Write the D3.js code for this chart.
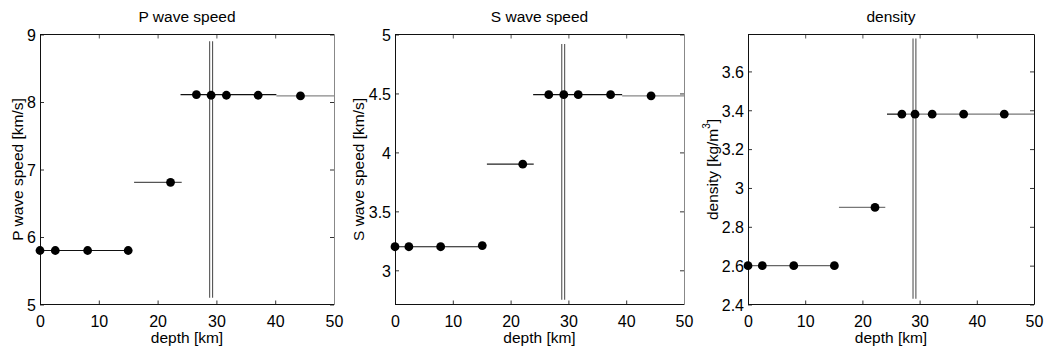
<!DOCTYPE html>
<html>
<head>
<meta charset="utf-8">
<script src="https://cdn.jsdelivr.net/npm/d3@7"></script>
<style>
  body { margin: 0; background: #fff; }
  svg text { font-family: "Liberation Sans", Arial, Helvetica, sans-serif; fill: #000; }
</style>
</head>
<body>
<svg id="chart" width="1045" height="354"></svg>
<script>
// ---- data ----
var depthTicks = [0, 10, 20, 30, 40, 50];
var pTicks = [5, 6, 7, 8, 9];
var sTicks = [3, 3.5, 4, 4.5, 5];
var rhoTicks = [2.4, 2.6, 2.8, 3, 3.2, 3.4, 3.6];

// sample points (depth in km, value)
var pDepth = [0, 2.6, 8.1, 15.0, 22.2, 26.6, 29.1, 31.7, 37.1, 44.3];
var pSpeed = [5.8, 5.8, 5.8, 5.8, 6.81, 8.11, 8.1, 8.1, 8.1, 8.09];
var sDepth = [0, 2.4, 7.9, 15.1, 22.1, 26.6, 29.2, 31.7, 37.3, 44.3];
var sSpeed = [3.2, 3.2, 3.2, 3.21, 3.9, 4.49, 4.49, 4.49, 4.49, 4.48];
var rhoDepth = [0, 2.5, 8.0, 15.1, 22.2, 26.9, 29.2, 32.2, 37.7, 44.8];
var rhoVal = [2.6, 2.6, 2.6, 2.6, 2.9, 3.38, 3.38, 3.38, 3.38, 3.38];

// layer segments: top depth, bottom depth, value
var pLayerTop = [0, 16, 23.9, 40.2];
var pLayerBot = [15.5, 24.1, 40.2, 50];
var pLayerVal = [5.8, 6.81, 8.11, 8.09];
var sLayerTop = [0, 15.9, 23.9, 39.3];
var sLayerBot = [15.5, 24.0, 39.3, 50];
var sLayerVal = [3.2, 3.9, 4.49, 4.48];
var rhoLayerTop = [0, 15.9, 24.3, 27];
var rhoLayerBot = [15.5, 24.0, 27, 50];
var rhoLayerVal = [2.6, 2.9, 3.38, 3.38];

// Moho (double vertical line)
var mohoDepth = [28.85, 29.35];
var pMohoRange = [5.1, 8.9];
var sMohoRange = [2.75, 4.92];
var rhoMohoRange = [2.43, 3.77];

var panels = [
  { title: "P wave speed", ylabel: "P wave speed [km/s]", left: 40, right: 334, ydom: [5, 9], yticks: pTicks,
    depth: pDepth, vals: pSpeed, lt: pLayerTop, lb: pLayerBot, lv: pLayerVal, moho: pMohoRange,
    shade: ["#111", "#555", "#111", "#888"], rightEdge: "#888", ylx: 17 },
  { title: "S wave speed", ylabel: "S wave speed [km/s]", left: 395, right: 684, ydom: [2.71, 5], yticks: sTicks,
    depth: sDepth, vals: sSpeed, lt: sLayerTop, lb: sLayerBot, lv: sLayerVal, moho: sMohoRange,
    shade: ["#111", "#222", "#111", "#888"], rightEdge: "#888", ylx: 358.5 },
  { title: "density", ylabel: "density", left: 748, right: 1034, ydom: [2.4, 3.79], yticks: rhoTicks,
    depth: rhoDepth, vals: rhoVal, lt: rhoLayerTop, lb: rhoLayerBot, lv: rhoLayerVal, moho: rhoMohoRange,
    shade: ["#666", "#777", "#111", "#777"], rightEdge: "#111", ylx: 712 }
];

var plotTop = 34.5, plotBottom = 304.5, tickLen = 4;
var svg = d3.select("#chart");

panels.forEach(function(p) {
  var x = d3.scaleLinear().domain([0, 50]).range([p.left, p.right]);
  var y = d3.scaleLinear().domain(p.ydom).range([plotBottom, plotTop]);
  var g = svg.append("g");

  // ticks inside, all four sides
  g.append("g")
    .attr("transform", "translate(0," + plotBottom + ")")
    .call(d3.axisBottom(x).tickValues(depthTicks).tickSizeInner(-tickLen).tickSizeOuter(0))
    .call(function(a) {
      a.select(".domain").remove();
      a.selectAll("line").attr("stroke", "#333");
      a.selectAll("text").attr("font-size", "16px").attr("dy", null).attr("y", 22.5);
    });
  g.append("g")
    .attr("transform", "translate(0," + plotTop + ")")
    .call(d3.axisTop(x).tickValues(depthTicks).tickSizeInner(-tickLen).tickSizeOuter(0).tickFormat(""))
    .call(function(a) { a.select(".domain").remove(); a.selectAll("line").attr("stroke", "#555"); });
  g.append("g")
    .attr("transform", "translate(" + p.left + ",0)")
    .call(d3.axisLeft(y).tickValues(p.yticks).tickSizeInner(-tickLen).tickSizeOuter(0)
      .tickFormat(function(d) { return d3.format("")(d); }))
    .call(function(a) {
      a.select(".domain").remove();
      a.selectAll("line").attr("stroke", "#333");
      a.selectAll("text").attr("font-size", "16px").attr("x", -4).attr("dy", "0.36em");
    });
  g.append("g")
    .attr("transform", "translate(" + p.right + ",0)")
    .call(d3.axisRight(y).tickValues(p.yticks).tickSizeInner(-tickLen).tickSizeOuter(0).tickFormat(""))
    .call(function(a) { a.select(".domain").remove(); a.selectAll("line").attr("stroke", "#333"); });

  // frame
  g.append("line").attr("x1", p.left).attr("x2", p.right).attr("y1", plotTop).attr("y2", plotTop).attr("stroke", "#111");
  g.append("line").attr("x1", p.left).attr("x2", p.right).attr("y1", plotBottom).attr("y2", plotBottom).attr("stroke", "#111");
  g.append("line").attr("x1", p.left + 0.5).attr("x2", p.left + 0.5).attr("y1", plotTop).attr("y2", plotBottom).attr("stroke", "#111");
  g.append("line").attr("x1", p.right + 0.5).attr("x2", p.right + 0.5).attr("y1", plotTop).attr("y2", plotBottom).attr("stroke", p.rightEdge);

  // Moho double line
  g.selectAll(".moho").data(mohoDepth).enter().append("line")
    .attr("x1", function(d) { return x(d); }).attr("x2", function(d) { return x(d); })
    .attr("y1", y(p.moho[0])).attr("y2", y(p.moho[1]))
    .attr("stroke", "#555").attr("stroke-width", 1.1);

  // layer segments
  g.selectAll(".layer").data(p.lv).enter().append("line")
    .attr("x1", function(d, i) { return x(p.lt[i]); })
    .attr("x2", function(d, i) { return x(p.lb[i]); })
    .attr("y1", function(d) { return y(d); })
    .attr("y2", function(d) { return y(d); })
    .attr("stroke", function(d, i) { return p.shade[i]; })
    .attr("stroke-width", 1.2);

  // sample points
  g.selectAll(".pt").data(p.vals).enter().append("circle")
    .attr("cx", function(d, i) { return x(p.depth[i]); })
    .attr("cy", function(d) { return y(d); })
    .attr("r", 4.4)
    .attr("fill", "#000");

  // title and labels
  g.append("text").attr("x", (p.left + p.right) / 2).attr("y", 22)
    .attr("text-anchor", "middle").attr("font-size", "15.5px").text(p.title);
  g.append("text").attr("x", (p.left + p.right) / 2).attr("y", 343)
    .attr("text-anchor", "middle").attr("font-size", "15.5px").text("depth [km]");
  var yl = g.append("text")
    .attr("transform", "translate(" + p.ylx + "," + ((plotTop + plotBottom) / 2) + ") rotate(-90)")
    .attr("text-anchor", "middle").attr("dominant-baseline", "central").attr("font-size", "15.5px")
    .text(p.ylabel);
  if (p.title === "density") {
    yl.append("tspan").text(" [kg/m");
    yl.append("tspan").attr("baseline-shift", "super").attr("font-size", "10px").text("3");
    yl.append("tspan").text("]");
  }
});
</script>
</body>
</html>
